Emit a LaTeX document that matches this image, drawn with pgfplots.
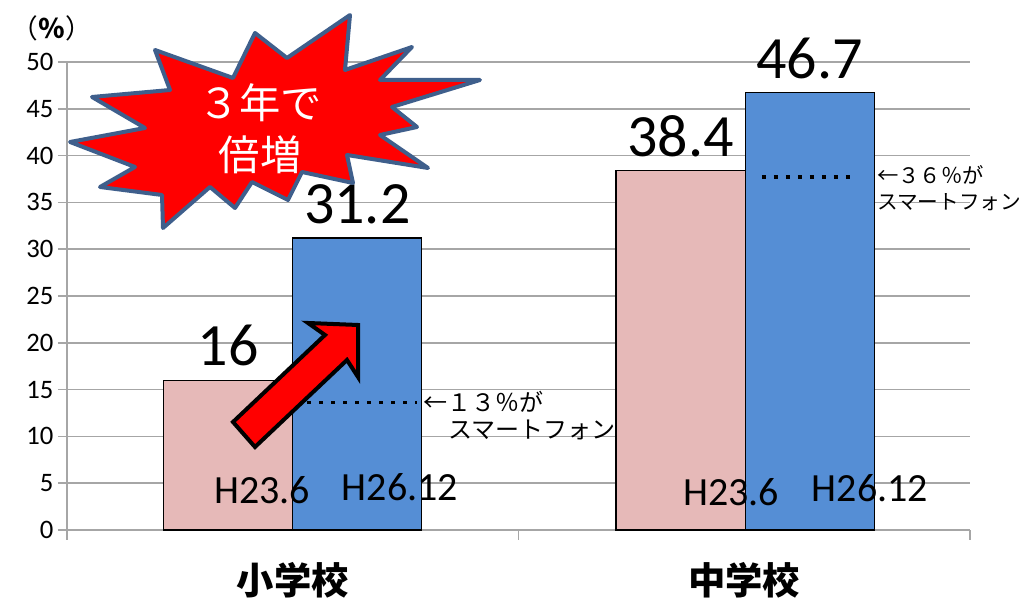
\documentclass[border=0pt]{standalone}
\usepackage{pgfplots}
\pgfplotsset{compat=1.18}
\usepackage{fontspec}
\setmainfont{Carlito}
\newfontfamily\jp{Noto Sans CJK JP}
\definecolor{pinkc}{HTML}{E6B9B8}
\definecolor{bluec}{HTML}{558ED5}
\definecolor{gridc}{HTML}{A6A6A6}
\definecolor{starc}{HTML}{3F5F8C}
\begin{document}
\begin{tikzpicture}[x=0.75pt,y=0.75pt]
\begin{axis}[
  at={(50.25pt,51pt)}, anchor=south west,
  width=677.25pt, height=351pt, scale only axis,
  xmin=0, xmax=2, ymin=0, ymax=50,
  ytick={0,5,...,50},
  axis x line*=bottom, axis y line*=left,
  axis line style={gridc, line width=1.2pt},
  ymajorgrids, grid style={gridc, line width=1.2pt},
  tick align=outside,
  major tick length=6.75pt,
  tick style={gridc, line width=1.2pt},
  xtick={0.5,1.5}, xticklabels={小学校,中学校},
  major x tick style={draw=none},
  minor xtick={0,1,2}, minor tick length=7.5pt,
  xticklabel style={font=\jp\bfseries\fontsize{28}{28}\selectfont, yshift=-14pt},
  yticklabel style={font=\fontsize{20}{20}\selectfont},
  /pgf/number format/assume math mode=true,
  clip=false,
]
\addplot[ybar, bar width=0.286, bar shift=0pt, fill=pinkc, draw=black, line width=0.9pt,
  nodes near coords, nodes near coords style={font=\fontsize{45}{45}\selectfont, black, inner sep=0pt, yshift=10pt}]
  coordinates {(0.357,16) (1.359,38.4)};
\addplot[ybar, bar width=0.286, bar shift=0pt, fill=bluec, draw=black, line width=0.9pt,
  nodes near coords, nodes near coords style={font=\fontsize{45}{45}\selectfont, black, inner sep=0pt, yshift=10pt}]
  coordinates {(0.643,31.2) (1.645,46.7)};
\addplot[black, line width=2.6pt, dash pattern=on 3pt off 6pt] coordinates {(0.532,13.6) (0.775,13.6)};
\addplot[black, line width=2.6pt, dash pattern=on 3pt off 6pt] coordinates {(1.539,37.7) (1.75,37.7)};
\end{axis}
% bar captions
\node[font=\fontsize{30}{30}\selectfont] at (262,108) {H23.6};
\node[font=\fontsize{30}{30}\selectfont] at (400,111) {H26.12};
\node[font=\fontsize{30}{30}\selectfont] at (731,106) {H23.6};
\node[font=\fontsize{30}{30}\selectfont] at (870,110) {H26.12};
% annotations
\node[anchor=west, inner sep=0pt, font=\jp\fontsize{18}{18}\selectfont] at (423,196) {←１３％が};
\node[anchor=west, inner sep=0pt, font=\jp\fontsize{18}{18}\selectfont] at (448,168) {スマートフォン};
\node[anchor=west, inner sep=0pt, font=\jp\fontsize{16}{16}\selectfont] at (877,423) {←３６％が};
\node[anchor=west, inner sep=0pt, font=\jp\fontsize{15.5}{15.5}\selectfont] at (877,396) {スマートフォン};
\node[font=\jp\fontsize{20}{20}\selectfont] at (52,570) {（\textbf{％}）};
% starburst
\draw[starc, line width=3pt, line join=round, fill=red]
 (350,583) -- (345,528) -- (412,551) -- (380,518) -- (480,518) -- (392,491) -- (417,471)
 -- (380,463) -- (428,430) -- (347,443) -- (353,415) -- (302,426) -- (288,398) -- (252,416)
 -- (235,390) -- (210,411) -- (163,370) -- (162,403) -- (100,411) -- (135,431) -- (70,456)
 -- (145,470) -- (92,501) -- (170,508) -- (155,548) -- (233,520) -- (255,565) -- (287,540) -- cycle;
\node[white, font=\jp\fontsize{31}{31}\selectfont] at (260,495) {３年で};
\node[white, font=\jp\fontsize{31}{31}\selectfont] at (260,443) {倍増};
% arrow
\draw[black, line width=3pt, fill=red, line join=miter]
 (233,176) -- (325,263) -- (308,275) -- (358,273) -- (358,221) -- (347,238) -- (255,151) -- cycle;
\pgfresetboundingbox
\path (0,0) rectangle (1029,598);
\end{tikzpicture}
\end{document}
